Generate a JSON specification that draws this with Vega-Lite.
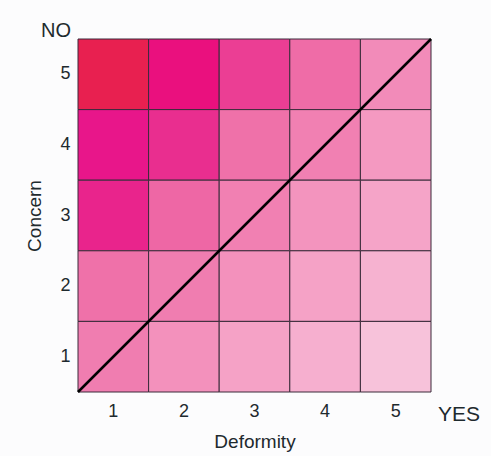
{
  "$schema": "https://vega.github.io/schema/vega-lite/v6.json",
  "width": 353,
  "height": 353,
  "autosize": {"type": "none"},
  "padding": {"left": 78, "top": 39, "right": 60, "bottom": 64},
  "background": "#fcfcfd",
  "config": {"view": {"stroke": null}, "font": "Liberation Sans"},
  "datasets": {
    "cells": [
      {"deformity": 1, "concern": 5, "intensity": 100},
      {"deformity": 2, "concern": 5, "intensity": 92},
      {"deformity": 3, "concern": 5, "intensity": 82},
      {"deformity": 4, "concern": 5, "intensity": 66},
      {"deformity": 5, "concern": 5, "intensity": 48},
      {"deformity": 1, "concern": 4, "intensity": 90},
      {"deformity": 2, "concern": 4, "intensity": 86},
      {"deformity": 3, "concern": 4, "intensity": 64},
      {"deformity": 4, "concern": 4, "intensity": 56},
      {"deformity": 5, "concern": 4, "intensity": 38},
      {"deformity": 1, "concern": 3, "intensity": 88},
      {"deformity": 2, "concern": 3, "intensity": 68},
      {"deformity": 3, "concern": 3, "intensity": 56},
      {"deformity": 4, "concern": 3, "intensity": 42},
      {"deformity": 5, "concern": 3, "intensity": 30},
      {"deformity": 1, "concern": 2, "intensity": 64},
      {"deformity": 2, "concern": 2, "intensity": 58},
      {"deformity": 3, "concern": 2, "intensity": 44},
      {"deformity": 4, "concern": 2, "intensity": 32},
      {"deformity": 5, "concern": 2, "intensity": 20},
      {"deformity": 1, "concern": 1, "intensity": 58},
      {"deformity": 2, "concern": 1, "intensity": 44},
      {"deformity": 3, "concern": 1, "intensity": 32},
      {"deformity": 4, "concern": 1, "intensity": 22},
      {"deformity": 5, "concern": 1, "intensity": 8}
    ],
    "diag": [{"x": 0.5, "y": 0.5}, {"x": 5.5, "y": 5.5}],
    "notes": [
      {"label": "NO", "x": 0.5, "y": 5.5},
      {"label": "YES", "x": 5.5, "y": 0.5}
    ]
  },
  "layer": [
    {
      "data": {"name": "cells"},
      "mark": {"type": "rect", "stroke": "#3b2b3a", "strokeWidth": 1},
      "encoding": {
        "x": {
          "field": "deformity", "type": "ordinal",
          "scale": {"paddingInner": 0, "paddingOuter": 0},
          "axis": {
            "title": "Deformity", "labelAngle": 0, "ticks": false, "domain": false,
            "labelFontSize": 18, "titleFontSize": 19, "titleFontWeight": "normal",
            "labelColor": "#1e2a2e", "titleColor": "#1e2a2e",
            "labelPadding": 10, "titlePadding": 12
          }
        },
        "y": {
          "field": "concern", "type": "ordinal", "sort": "descending",
          "scale": {"paddingInner": 0, "paddingOuter": 0},
          "axis": {
            "title": "Concern", "ticks": false, "domain": false,
            "labelFontSize": 18, "titleFontSize": 19, "titleFontWeight": "normal",
            "labelColor": "#1e2a2e", "titleColor": "#1e2a2e",
            "labelPadding": 8, "titlePadding": 15
          }
        },
        "color": {
          "field": "intensity", "type": "quantitative",
          "scale": {"domain": [0, 60, 90, 100], "range": ["#f8cce0", "#f07aae", "#e8168a", "#e82050"]},
          "legend": null
        }
      }
    },
    {
      "data": {"name": "diag"},
      "mark": {"type": "line", "color": "#000000", "strokeWidth": 2.5},
      "encoding": {
        "x": {"field": "x", "type": "quantitative", "scale": {"domain": [0.5, 5.5], "nice": false, "zero": false}, "axis": null},
        "y": {"field": "y", "type": "quantitative", "scale": {"domain": [0.5, 5.5], "nice": false, "zero": false}, "axis": null}
      }
    },
    {
      "data": {"name": "notes"},
      "transform": [{"filter": "datum.label == 'NO'"}],
      "mark": {"type": "text", "align": "right", "baseline": "alphabetic", "dx": -7, "dy": -2, "fontSize": 20, "color": "#1e2a2e"},
      "encoding": {
        "x": {"field": "x", "type": "quantitative", "scale": {"domain": [0.5, 5.5], "nice": false, "zero": false}, "axis": null},
        "y": {"field": "y", "type": "quantitative", "scale": {"domain": [0.5, 5.5], "nice": false, "zero": false}, "axis": null},
        "text": {"field": "label"}
      }
    },
    {
      "data": {"name": "notes"},
      "transform": [{"filter": "datum.label == 'YES'"}],
      "mark": {"type": "text", "align": "left", "baseline": "alphabetic", "dx": 7, "dy": 29, "fontSize": 21, "color": "#1e2a2e"},
      "encoding": {
        "x": {"field": "x", "type": "quantitative", "scale": {"domain": [0.5, 5.5], "nice": false, "zero": false}, "axis": null},
        "y": {"field": "y", "type": "quantitative", "scale": {"domain": [0.5, 5.5], "nice": false, "zero": false}, "axis": null},
        "text": {"field": "label"}
      }
    }
  ],
  "resolve": {"scale": {"x": "independent", "y": "independent"}}
}
